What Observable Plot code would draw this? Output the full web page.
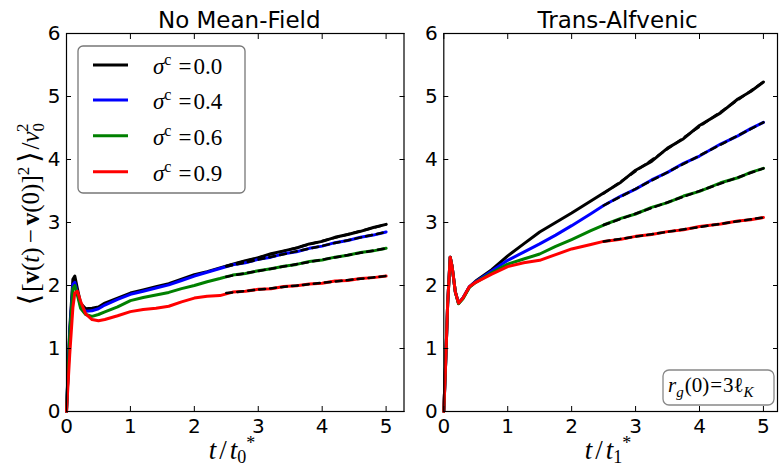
<!DOCTYPE html>
<html><head><meta charset="utf-8">
<script src="https://cdn.jsdelivr.net/npm/d3@7"></script>
<script src="https://cdn.jsdelivr.net/npm/@observablehq/plot@0.6"></script>
<style>
html,body{margin:0;padding:0;background:#fff;}
#chart{position:relative;width:781px;height:470px;overflow:hidden;font-family:"DejaVu Sans",sans-serif;}
#chart > svg{position:absolute;top:0;}
</style></head><body><div id="chart"></div>
<script>
// ---- data ----
const seriesLabels = ["0.0", "0.4", "0.6", "0.9"];
const seriesColors = ["#000000", "#0000ff", "#008000", "#ff0000"];
const xTicks = [0, 1, 2, 3, 4, 5];
const yTicks = [0, 1, 2, 3, 4, 5, 6];
const panelTitles = ["No Mean-Field", "Trans-Alfvenic"];

// Left panel: No Mean-Field
const tLeft =   [0, 0.05, 0.1, 0.13, 0.17, 0.22, 0.3, 0.4, 0.5, 0.6, 0.8, 1.0, 1.2, 1.4, 1.6, 1.8, 2.0, 2.2, 2.4, 2.6, 2.8, 3.0, 3.2, 3.4, 3.6, 3.8, 4.0, 4.2, 4.4, 4.6, 4.8, 5.0];
const left00 =  [0, 1.30, 2.10, 2.15, 1.95, 1.72, 1.63, 1.64, 1.66, 1.72, 1.80, 1.88, 1.93, 1.98, 2.03, 2.10, 2.17, 2.22, 2.28, 2.34, 2.395, 2.44, 2.505, 2.55, 2.595, 2.66, 2.70, 2.765, 2.81, 2.86, 2.92, 2.97];
const left04 =  [0, 1.25, 2.02, 2.05, 1.88, 1.68, 1.59, 1.60, 1.63, 1.69, 1.78, 1.86, 1.91, 1.96, 2.01, 2.08, 2.15, 2.21, 2.27, 2.33, 2.36, 2.415, 2.45, 2.505, 2.535, 2.59, 2.625, 2.68, 2.715, 2.765, 2.80, 2.85];
const left06 =  [0, 1.20, 1.95, 2.00, 1.85, 1.64, 1.54, 1.51, 1.54, 1.58, 1.66, 1.76, 1.81, 1.85, 1.89, 1.95, 2.00, 2.06, 2.11, 2.165, 2.19, 2.235, 2.265, 2.305, 2.335, 2.38, 2.405, 2.45, 2.48, 2.525, 2.55, 2.59];
const left09 =  [0, 0.90, 1.65, 1.88, 1.91, 1.75, 1.55, 1.46, 1.44, 1.46, 1.52, 1.585, 1.62, 1.64, 1.67, 1.74, 1.80, 1.83, 1.84, 1.895, 1.91, 1.94, 1.95, 1.985, 1.995, 2.025, 2.035, 2.07, 2.08, 2.11, 2.125, 2.15];
const leftFitT = [2.5, 5.0];
const leftFit00 = [2.31, 2.97];
const leftFit04 = [2.30, 2.85];
const leftFit06 = [2.14, 2.59];
const leftFit09 = [1.88, 2.15];

// Right panel: Trans-Alfvenic
const tRight =   [0, 0.03, 0.06, 0.1, 0.13, 0.18, 0.23, 0.3, 0.4, 0.5, 0.75, 1.0, 1.25, 1.5, 1.75, 2.0, 2.3, 2.5, 2.77, 3.0, 3.25, 3.5, 3.75, 4.0, 4.33, 4.6, 4.8, 5.0];
const right00 =  [0, 0.8, 1.7, 2.45, 2.3, 1.9, 1.72, 1.80, 1.98, 2.07, 2.25, 2.47, 2.66, 2.85, 3.00, 3.15, 3.34, 3.47, 3.64, 3.83, 3.97, 4.18, 4.33, 4.54, 4.74, 4.96, 5.08, 5.23];
const right04 =  [0, 0.8, 1.7, 2.45, 2.3, 1.9, 1.72, 1.80, 1.98, 2.06, 2.23, 2.40, 2.53, 2.66, 2.80, 2.95, 3.14, 3.27, 3.42, 3.53, 3.675, 3.795, 3.94, 4.055, 4.245, 4.375, 4.49, 4.59];
const right06 =  [0, 0.8, 1.7, 2.45, 2.3, 1.9, 1.71, 1.79, 1.97, 2.05, 2.20, 2.34, 2.42, 2.50, 2.62, 2.73, 2.87, 2.96, 3.065, 3.135, 3.24, 3.315, 3.42, 3.495, 3.63, 3.71, 3.795, 3.86];
const right09 =  [0, 0.8, 1.7, 2.45, 2.3, 1.9, 1.72, 1.80, 1.98, 2.05, 2.18, 2.30, 2.36, 2.40, 2.49, 2.58, 2.65, 2.70, 2.735, 2.78, 2.81, 2.855, 2.885, 2.935, 2.975, 3.025, 3.045, 3.08];
const rightFitT = [2.5, 5.0];
const rightFit00 = [3.46, 5.23];
const rightFit04 = [3.27, 4.59];
const rightFit06 = [2.96, 3.86];
const rightFit09 = [2.70, 3.08];

// ---- build ----
function toRows(t, arrs) {
  const rows = [];
  arrs.forEach((arr, i) => arr.forEach((v, j) => rows.push({t: t[j], v, s: seriesLabels[i]})));
  return rows;
}

function panel({title, t, ys, fitT, fits, xmax, width, ml, mr, titleDx}) {
  const rows = toRows(t, ys);
  const fitRows = toRows(fitT, fits);
  return Plot.plot({
    width, height: 470,
    marginLeft: ml, marginRight: mr, marginTop: 33, marginBottom: 59,
    x: {domain: [0, xmax], label: null},
    y: {domain: [0, 6], label: null},
    color: {domain: seriesLabels, range: seriesColors},
    style: {fontFamily: "DejaVu Sans", fontSize: "20px", background: "transparent", color: "#000", overflow: "visible"},
    marks: [
      Plot.line(rows, {x: "t", y: "v", z: "s", stroke: "s", strokeWidth: 3}),
      Plot.line(fitRows, {x: "t", y: "v", z: "s", stroke: "#000", strokeWidth: 2.5, strokeDasharray: "6,5"}),
      Plot.frame({stroke: "#000", strokeWidth: 1.2}),
      Plot.axisX({anchor: "bottom", ticks: xTicks, tickSize: -5, tickPadding: 12, label: null, fontSize: 20, tickFormat: d => String(d)}),
      Plot.axisX({anchor: "top", ticks: xTicks, tickSize: -5, tickPadding: 0, label: null, tickFormat: () => ""}),
      Plot.axisY({anchor: "left", ticks: yTicks, tickSize: -5, tickPadding: 11, label: null, fontSize: 20, tickFormat: d => String(d)}),
      Plot.axisY({anchor: "right", ticks: yTicks, tickSize: -5, tickPadding: 0, label: null, tickFormat: () => ""}),
      Plot.text([title], {text: d => d, frameAnchor: "top", dy: -6, dx: titleDx, lineAnchor: "bottom", fontSize: 23})
    ]
  });
}

const chart = document.getElementById("chart");
const p1 = panel({title: panelTitles[0], t: tLeft, ys: [left00, left04, left06, left09],
  fitT: leftFitT, fits: [leftFit00, leftFit04, leftFit06, leftFit09],
  xmax: 5.28, width: 420, ml: 66, mr: 16.5, titleDx: 4});
p1.style.left = "0px";
chart.appendChild(p1);
const p2 = panel({title: panelTitles[1], t: tRight, ys: [right00, right04, right06, right09],
  fitT: rightFitT, fits: [rightFit00, rightFit04, rightFit06, rightFit09],
  xmax: 5.22, width: 361, ml: 23.3, mr: 4, titleDx: 7});
p2.style.left = "420px";
chart.appendChild(p2);

// ---- overlay: legend, annotation, axis labels ----
const NS = "http://www.w3.org/2000/svg";
let legendItems = "";
const legendY = [65, 100, 135.7, 171.7];
seriesLabels.forEach((lab, i) => {
  const y = legendY[i];
  legendItems += `<line x1="93" x2="128" y1="${y}" y2="${y}" stroke="${seriesColors[i]}" stroke-width="3"/>`;
  legendItems += `<text x="153" y="${y + 9}" font-family="Liberation Serif" font-size="23"><tspan font-style="italic">σ</tspan><tspan dy="-9" font-size="16">c</tspan><tspan dy="9" dx="7">=</tspan><tspan dx="2">${lab}</tspan></text>`;
});
const overlay = `
<svg xmlns="${NS}" width="781" height="470" style="position:absolute;left:0;top:0;overflow:visible">
  <rect x="78" y="46" width="167" height="147" rx="5" fill="#fff" stroke="#777" stroke-width="1.3"/>
  ${legendItems}
  <rect x="663" y="370" width="111" height="35" rx="6" fill="#fff" stroke="#888" stroke-width="1.3"/>
  <text x="668" y="392" font-family="Liberation Serif" font-size="21"><tspan font-style="italic">r</tspan><tspan font-style="italic" font-size="15" dy="5">g</tspan><tspan dy="-5" dx="1">(0)</tspan><tspan dx="1">=</tspan><tspan dx="1">3ℓ</tspan><tspan font-style="italic" font-size="15" dy="5">K</tspan></text>
  <text x="232" y="459" text-anchor="middle" font-family="Liberation Serif" font-size="27"><tspan font-style="italic">t</tspan><tspan dx="3">/</tspan><tspan dx="3" font-style="italic">t</tspan><tspan dy="4" font-size="18">0</tspan><tspan dx="0" dy="-14" font-size="18">*</tspan></text>
  <text x="608" y="459" text-anchor="middle" font-family="Liberation Serif" font-size="27"><tspan font-style="italic">t</tspan><tspan dx="3">/</tspan><tspan dx="3" font-style="italic">t</tspan><tspan dy="4" font-size="18">1</tspan><tspan dx="0" dy="-14" font-size="18">*</tspan></text>
  <text transform="translate(39,214) rotate(-90)" text-anchor="middle" font-family="Liberation Serif" font-size="25"><tspan font-family="DejaVu Sans" font-size="29">⟨</tspan><tspan dx="2">[</tspan><tspan font-weight="bold">v</tspan>(<tspan font-style="italic">t</tspan>)<tspan dx="4">−</tspan><tspan dx="4" font-weight="bold">v</tspan>(0)]<tspan dy="-10" font-size="17">2</tspan><tspan dy="10" dx="4" font-family="DejaVu Sans" font-size="29">⟩</tspan><tspan dx="2">/</tspan><tspan font-style="italic">v</tspan><tspan dy="5" font-size="17">0</tspan><tspan dx="-9" dy="-16" font-size="17">2</tspan></text>
</svg>`;
chart.insertAdjacentHTML("beforeend", overlay);
</script>
</body></html>
